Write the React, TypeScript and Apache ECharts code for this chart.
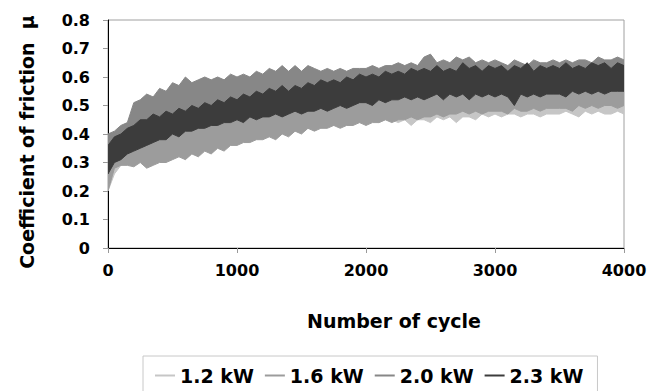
import React, { useEffect, useRef } from 'react';
import * as echarts from 'echarts';

// Sample positions (number of cycle)
const cycles = [
  0, 50, 100, 150, 200, 250, 300, 350, 400, 450,
  500, 550, 600, 650, 700, 750, 800, 850, 900, 950,
  1000, 1050, 1100, 1150, 1200, 1250, 1300, 1350, 1400, 1450,
  1500, 1550, 1600, 1650, 1700, 1750, 1800, 1850, 1900, 1950,
  2000, 2050, 2100, 2150, 2200, 2250, 2300, 2350, 2400, 2450,
  2500, 2550, 2600, 2650, 2700, 2750, 2800, 2850, 2900, 2950,
  3000, 3050, 3100, 3150, 3200, 3250, 3300, 3350, 3400, 3450,
  3500, 3550, 3600, 3650, 3700, 3750, 3800, 3850, 3900, 3950,
  4000,
];

// 1.2 kW : lower / upper envelope of the noisy trace
const kw12Low = [
  0.20, 0.26, 0.29, 0.30, 0.30, 0.31, 0.31, 0.32, 0.32, 0.33,
  0.33, 0.34, 0.34, 0.35, 0.35, 0.36, 0.36, 0.37, 0.37, 0.38,
  0.38, 0.39, 0.39, 0.40, 0.40, 0.40, 0.41, 0.41, 0.41, 0.42,
  0.42, 0.42, 0.43, 0.43, 0.43, 0.43, 0.44, 0.44, 0.44, 0.44,
  0.44, 0.45, 0.44, 0.45, 0.45, 0.44, 0.45, 0.43, 0.45, 0.45,
  0.44, 0.46, 0.45, 0.46, 0.44, 0.46, 0.46, 0.45, 0.47, 0.46,
  0.47, 0.46, 0.47, 0.47, 0.46, 0.47, 0.47, 0.46, 0.47, 0.47,
  0.47, 0.48, 0.47, 0.46, 0.48, 0.47, 0.48, 0.47, 0.47, 0.48,
  0.47,
];
const kw12High = [
  0.28, 0.33, 0.35, 0.36, 0.37, 0.38, 0.39, 0.40, 0.40, 0.41,
  0.41, 0.42, 0.42, 0.43, 0.43, 0.44, 0.44, 0.45, 0.45, 0.46,
  0.46, 0.47, 0.47, 0.48, 0.48, 0.48, 0.49, 0.49, 0.49, 0.50,
  0.50, 0.50, 0.51, 0.51, 0.51, 0.51, 0.52, 0.52, 0.52, 0.52,
  0.52, 0.53, 0.52, 0.53, 0.53, 0.52, 0.53, 0.52, 0.53, 0.53,
  0.53, 0.54, 0.53, 0.54, 0.53, 0.54, 0.54, 0.53, 0.55, 0.54,
  0.55, 0.54, 0.55, 0.55, 0.54, 0.55, 0.55, 0.54, 0.55, 0.55,
  0.55, 0.56, 0.55, 0.55, 0.56, 0.55, 0.56, 0.55, 0.55, 0.56,
  0.55,
];

// 1.6 kW
const kw16Low = [
  0.20, 0.28, 0.29, 0.29, 0.285, 0.30, 0.28, 0.29, 0.30, 0.30,
  0.31, 0.32, 0.31, 0.33, 0.32, 0.34, 0.33, 0.35, 0.34, 0.36,
  0.36, 0.37, 0.37, 0.38, 0.38, 0.39, 0.38, 0.40, 0.39, 0.41,
  0.40, 0.42, 0.41, 0.42, 0.42, 0.43, 0.42, 0.43, 0.43, 0.44,
  0.43, 0.44, 0.44, 0.45, 0.44, 0.45, 0.45, 0.46, 0.45, 0.46,
  0.46, 0.47, 0.46, 0.47, 0.47, 0.48, 0.47, 0.48, 0.47, 0.48,
  0.48, 0.48, 0.47, 0.49, 0.48, 0.48, 0.49, 0.48, 0.49, 0.49,
  0.49, 0.49, 0.48, 0.50, 0.49, 0.50, 0.49, 0.50, 0.50, 0.49,
  0.50,
];
const kw16High = [
  0.33, 0.36, 0.37, 0.38, 0.39, 0.39, 0.40, 0.40, 0.41, 0.41,
  0.42, 0.42, 0.43, 0.43, 0.44, 0.44, 0.45, 0.45, 0.46, 0.46,
  0.47, 0.47, 0.48, 0.48, 0.49, 0.49, 0.49, 0.50, 0.50, 0.50,
  0.51, 0.51, 0.51, 0.52, 0.52, 0.52, 0.53, 0.53, 0.53, 0.54,
  0.54, 0.54, 0.55, 0.55, 0.55, 0.55, 0.56, 0.56, 0.56, 0.56,
  0.56, 0.57, 0.57, 0.57, 0.57, 0.57, 0.57, 0.57, 0.57, 0.57,
  0.57, 0.57, 0.57, 0.57, 0.57, 0.57, 0.57, 0.57, 0.57, 0.57,
  0.58, 0.58, 0.58, 0.58, 0.58, 0.58, 0.58, 0.58, 0.58, 0.58,
  0.58,
];

// 2.0 kW
const kw20Low = [
  0.34, 0.36, 0.38, 0.40, 0.42, 0.43, 0.44, 0.45, 0.45, 0.46,
  0.46, 0.47, 0.47, 0.48, 0.48, 0.49, 0.49, 0.50, 0.50, 0.51,
  0.51, 0.52, 0.52, 0.53, 0.53, 0.54, 0.54, 0.55, 0.54, 0.55,
  0.55, 0.56, 0.56, 0.57, 0.57, 0.57, 0.57, 0.58, 0.58, 0.59,
  0.59, 0.59, 0.59, 0.60, 0.60, 0.60, 0.60, 0.61, 0.61, 0.61,
  0.61, 0.61, 0.61, 0.61, 0.61, 0.61, 0.61, 0.61, 0.61, 0.61,
  0.61, 0.61, 0.61, 0.61, 0.61, 0.61, 0.61, 0.61, 0.61, 0.61,
  0.61, 0.61, 0.61, 0.61, 0.62, 0.62, 0.62, 0.62, 0.62, 0.62,
  0.62,
];
const kw20High = [
  0.40, 0.41, 0.43, 0.44, 0.51, 0.52, 0.54, 0.53, 0.56, 0.55,
  0.58, 0.57, 0.60, 0.58, 0.59, 0.60, 0.59, 0.60, 0.59, 0.61,
  0.60, 0.61, 0.60, 0.62, 0.61, 0.63, 0.62, 0.64, 0.62, 0.64,
  0.62, 0.64, 0.63, 0.62, 0.63, 0.62, 0.63, 0.62, 0.63, 0.63,
  0.63, 0.64, 0.63, 0.64, 0.64, 0.65, 0.64, 0.65, 0.64, 0.67,
  0.68, 0.65, 0.66, 0.65, 0.67, 0.66, 0.67, 0.65, 0.66, 0.65,
  0.66, 0.65, 0.64, 0.66, 0.65, 0.64, 0.66, 0.65, 0.65, 0.66,
  0.65, 0.66, 0.65, 0.66, 0.66, 0.65, 0.67, 0.66, 0.66, 0.67,
  0.66,
];

// 2.3 kW
const kw23Low = [
  0.26, 0.30, 0.31, 0.33, 0.34, 0.35, 0.36, 0.37, 0.38, 0.38,
  0.40, 0.39, 0.41, 0.41, 0.42, 0.42, 0.43, 0.43, 0.44, 0.44,
  0.45, 0.44, 0.46, 0.45, 0.46, 0.46, 0.47, 0.46, 0.47, 0.48,
  0.47, 0.48, 0.48, 0.49, 0.48, 0.49, 0.50, 0.49, 0.50, 0.51,
  0.51, 0.50, 0.52, 0.51, 0.52, 0.52, 0.53, 0.52, 0.53, 0.52,
  0.53, 0.54, 0.52, 0.54, 0.53, 0.54, 0.52, 0.54, 0.53, 0.54,
  0.53, 0.54, 0.53, 0.50, 0.54, 0.53, 0.54, 0.53, 0.54, 0.54,
  0.54, 0.53, 0.55, 0.54, 0.55, 0.54, 0.55, 0.54, 0.55, 0.55,
  0.55,
];
const kw23High = [
  0.36, 0.39, 0.40, 0.42, 0.43, 0.45, 0.45, 0.47, 0.46, 0.48,
  0.47, 0.49, 0.48, 0.50, 0.49, 0.51, 0.50, 0.52, 0.51, 0.53,
  0.52, 0.54, 0.53, 0.55, 0.54, 0.56, 0.55, 0.57, 0.55, 0.57,
  0.56, 0.58, 0.57, 0.59, 0.58, 0.59, 0.58, 0.60, 0.59, 0.61,
  0.60, 0.61, 0.60, 0.62, 0.61, 0.62, 0.61, 0.63, 0.62, 0.63,
  0.62, 0.64, 0.62, 0.63, 0.62, 0.65, 0.63, 0.64, 0.62, 0.64,
  0.63, 0.64, 0.62, 0.64, 0.63, 0.65, 0.62, 0.64, 0.63, 0.64,
  0.63, 0.65, 0.63, 0.64, 0.63, 0.65, 0.64, 0.65, 0.63, 0.65,
  0.64,
];

const seriesNames = ['1.2 kW', '1.6 kW', '2.0 kW', '2.3 kW'];
const seriesColors = ['#c6c6c6', '#9c9c9c', '#878787', '#3c3c3c'];
const lows = [kw12Low, kw16Low, kw20Low, kw23Low];
const highs = [kw12High, kw16High, kw20High, kw23High];

const xTickLabels = ['0', '1000', '2000', '3000', '4000'];
const yTickLabels = ['0', '0.1', '0.2', '0.3', '0.4', '0.5', '0.6', '0.7', '0.8'];

const FONT = '"DejaVu Sans", "Liberation Sans", Arial, sans-serif';

export default function App() {
  const ref = useRef<HTMLDivElement>(null);

  useEffect(() => {
    if (!ref.current) return;
    const chart = echarts.init(ref.current, null, { renderer: 'svg' });

    const series: any[] = seriesNames.map((name, k) => {
      const color = seriesColors[k];
      const lo = lows[k];
      const hi = highs[k];
      return {
        type: 'custom',
        name,
        coordinateSystem: 'cartesian2d',
        clip: true,
        silent: true,
        itemStyle: { color },
        data: cycles.map((c, i) => [c, lo[i], hi[i]]),
        encode: { x: 0, y: [1, 2] },
        renderItem: (params: any, api: any) => {
          if (params.dataIndex !== 0) return null;
          const pts: number[][] = [];
          for (let i = 0; i < cycles.length; i++) pts.push(api.coord([cycles[i], hi[i]]));
          for (let i = cycles.length - 1; i >= 0; i--) pts.push(api.coord([cycles[i], lo[i]]));
          return {
            type: 'polygon',
            shape: { points: pts },
            style: { fill: color, stroke: color, lineWidth: 1 },
          };
        },
      };
    });

    const option: any = {
      animation: false,
      backgroundColor: '#ffffff',
      grid: {
        left: 108,
        right: 38,
        top: 20,
        bottom: 143,
        show: true,
        borderColor: '#a0a0a0',
        borderWidth: 1,
        backgroundColor: 'transparent',
      },
      legend: {
        data: seriesNames,
        left: 143,
        top: 356,
        orient: 'horizontal',
        icon: 'rect',
        itemWidth: 20,
        itemHeight: 2,
        itemGap: 11,
        padding: [10, 14, 14, 12],
        borderColor: '#c8c8c8',
        borderWidth: 1,
        textStyle: { fontFamily: FONT, fontWeight: 'bold', fontSize: 19, color: '#000' },
      },
      xAxis: {
        type: 'value',
        min: 0,
        max: 4000,
        interval: 1000,
        axisLine: { show: true, onZero: false, lineStyle: { color: '#000', width: 1 } },
        axisTick: { show: true, inside: false, length: 5, lineStyle: { color: '#999' } },
        axisLabel: {
          margin: 14,
          fontFamily: FONT,
          fontWeight: 'bold',
          fontSize: 16,
          color: '#000',
          formatter: (v: number) => xTickLabels[Math.round(v / 1000)] ?? String(v),
        },
        splitLine: { show: false },
      },
      yAxis: {
        type: 'value',
        min: 0,
        max: 0.8,
        interval: 0.1,
        axisLine: { show: true, lineStyle: { color: '#000', width: 1 } },
        axisTick: { show: true, inside: false, length: 5, lineStyle: { color: '#999' } },
        axisLabel: {
          margin: 18,
          fontFamily: FONT,
          fontWeight: 'bold',
          fontSize: 16,
          color: '#000',
          formatter: (v: number) => yTickLabels[Math.round(v * 10)] ?? String(v),
        },
        splitLine: { show: false },
      },
      graphic: [
        {
          type: 'text',
          x: 27,
          y: 142,
          rotation: Math.PI / 2,
          style: {
            text: 'Coefficient of friction  μ',
            fontFamily: FONT,
            fontWeight: 'bold',
            fontSize: 19,
            fill: '#000',
            align: 'center',
            verticalAlign: 'middle',
          },
        },
        {
          type: 'text',
          x: 394,
          y: 321,
          style: {
            text: 'Number of cycle',
            fontFamily: FONT,
            fontWeight: 'bold',
            fontSize: 19,
            fill: '#000',
            align: 'center',
            verticalAlign: 'middle',
          },
        },
      ],
      series,
    };

    chart.setOption(option);
    return () => chart.dispose();
  }, []);

  return (
    <div
      ref={ref}
      style={{ position: 'absolute', left: 0, top: 0, width: 662, height: 391 }}
    />
  );
}
